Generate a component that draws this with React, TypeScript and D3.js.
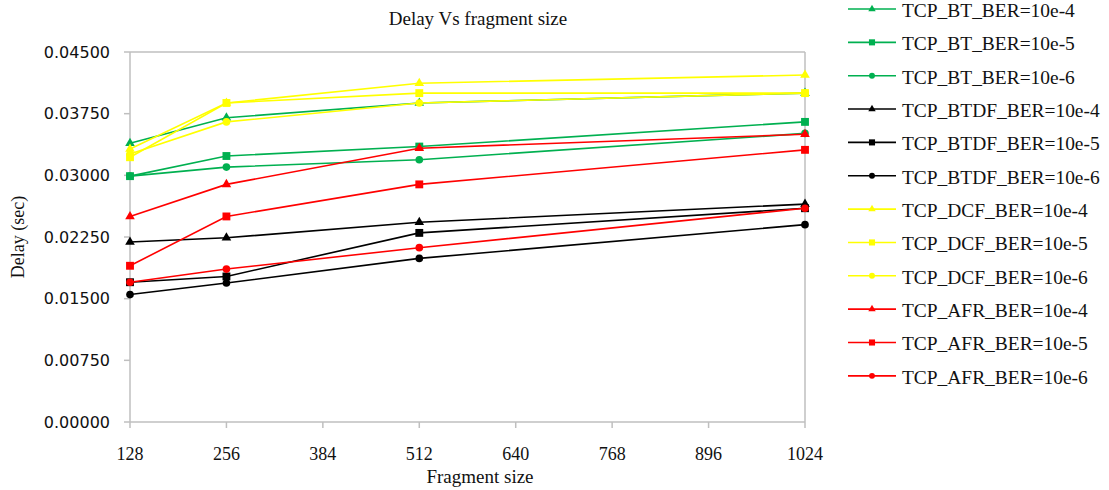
import React from "react";
import * as d3 from "d3";

const fragmentSizes = [128, 256, 512, 1024];
const xTicks = [128, 256, 384, 512, 640, 768, 896, 1024];
const yTicks = [0, 0.0075, 0.015, 0.0225, 0.03, 0.0375, 0.045];

const bt4 = [0.0339, 0.037, 0.0388, 0.04];
const bt5 = [0.0299, 0.03235, 0.0335, 0.0365];
const bt6 = [0.0299, 0.031, 0.0319, 0.0351];
const btdf4 = [0.0219, 0.0224, 0.0243, 0.0265];
const btdf5 = [0.017, 0.0177, 0.023, 0.026];
const btdf6 = [0.0155, 0.0169, 0.0199, 0.024];
const dcf4 = [0.0332, 0.0388, 0.0412, 0.0422];
const dcf5 = [0.0322, 0.0388, 0.04, 0.04];
const dcf6 = [0.0326, 0.0365, 0.0388, 0.04];
const afr4 = [0.025, 0.0289, 0.0333, 0.035];
const afr5 = [0.019, 0.025, 0.0289, 0.0331];
const afr6 = [0.017, 0.0186, 0.0212, 0.026];

const seriesNames = [
  "TCP_BT_BER=10e-4", "TCP_BT_BER=10e-5", "TCP_BT_BER=10e-6",
  "TCP_BTDF_BER=10e-4", "TCP_BTDF_BER=10e-5", "TCP_BTDF_BER=10e-6",
  "TCP_DCF_BER=10e-4", "TCP_DCF_BER=10e-5", "TCP_DCF_BER=10e-6",
  "TCP_AFR_BER=10e-4", "TCP_AFR_BER=10e-5", "TCP_AFR_BER=10e-6",
];
const seriesValues = [bt4, bt5, bt6, btdf4, btdf5, btdf6, dcf4, dcf5, dcf6, afr4, afr5, afr6];
const groupColors = ["#00B050", "#000000", "#FFFF00", "#FF0000"];
const markerKinds = ["triangle", "square", "circle"];

const W = 1109;
const H = 490;
const plot = { left: 130, right: 805, top: 52, bottom: 422 };

function symbolPath(kind: string, scale: number) {
  if (kind === "triangle") return d3.symbol(d3.symbolTriangle, 40 * scale)()!;
  if (kind === "square") return d3.symbol(d3.symbolSquare, 62 * scale)()!;
  return d3.symbol(d3.symbolCircle, 46 * scale)()!;
}

export default function App() {
  const x = d3.scaleLinear().domain([128, 1024]).range([plot.left, plot.right]);
  const y = d3.scaleLinear().domain([0, 0.045]).range([plot.bottom, plot.top]);
  const line = d3
    .line<number>()
    .x((_, i) => x(fragmentSizes[i]))
    .y((d) => y(d));

  const serif = "'Liberation Serif', 'Times New Roman', serif";
  const sans = "'DejaVu Sans', Tahoma, sans-serif";
  const axisColor = "#BFBFBF";

  return (
    <svg width={W} height={H} style={{ position: "absolute", left: 0, top: 0 }}>
      <rect x={0} y={0} width={W} height={H} fill="#fff" />
      {/* plot border */}
      <line x1={plot.left} x2={plot.right} y1={plot.top} y2={plot.top} stroke={axisColor} strokeWidth={1.5} />
      <line x1={plot.right} x2={plot.right} y1={plot.top} y2={plot.bottom} stroke={axisColor} strokeWidth={1.5} />
      <line x1={plot.left} x2={plot.left} y1={plot.top} y2={plot.bottom} stroke={axisColor} strokeWidth={1.5} />
      <line x1={plot.left} x2={plot.right} y1={plot.bottom} y2={plot.bottom} stroke={axisColor} strokeWidth={1.5} />

      {/* y ticks */}
      {yTicks.map((t) => (
        <g key={"y" + t}>
          <line x1={plot.left - 6} x2={plot.left} y1={y(t)} y2={y(t)} stroke={axisColor} strokeWidth={1.5} />
          <text x={110} y={y(t)} dy="0.36em" textAnchor="end" fontFamily={sans} fontSize={16} fill="#111">
            {d3.format(".5f")(t)}
          </text>
        </g>
      ))}
      {/* x ticks */}
      {xTicks.map((t) => (
        <g key={"x" + t}>
          <line x1={x(t)} x2={x(t)} y1={plot.bottom} y2={plot.bottom + 6} stroke={axisColor} strokeWidth={1.5} />
          <text x={x(t)} y={460} textAnchor="middle" fontFamily={serif} fontSize={18} fill="#111">
            {t}
          </text>
        </g>
      ))}

      {/* series */}
      {seriesValues.map((vals, si) => {
        const color = groupColors[Math.floor(si / 3)];
        const kind = markerKinds[si % 3];
        const p = symbolPath(kind, 1);
        return (
          <g key={"s" + si}>
            <path d={line(vals)!} fill="none" stroke={color} strokeWidth={1.6} />
            {vals.map((v, i) => (
              <path key={i} d={p} transform={`translate(${x(fragmentSizes[i])},${y(v)})`} fill={color} />
            ))}
          </g>
        );
      })}

      {/* titles */}
      <text x={478} y={25} textAnchor="middle" fontFamily={serif} fontSize={19} fill="#111">
        Delay Vs fragment size
      </text>
      <text x={480} y={483} textAnchor="middle" fontFamily={serif} fontSize={19} fill="#111">
        Fragment size
      </text>
      <text
        transform={`translate(24,237) rotate(-90)`}
        textAnchor="middle"
        fontFamily={serif}
        fontSize={18}
        fill="#111"
      >
        Delay (sec)
      </text>

      {/* legend */}
      {seriesNames.map((name, si) => {
        const color = groupColors[Math.floor(si / 3)];
        const kind = markerKinds[si % 3];
        const cy = 9 + si * 33.35;
        return (
          <g key={"l" + si}>
            <line x1={848} x2={896} y1={cy} y2={cy} stroke={color} strokeWidth={1.6} />
            <path d={symbolPath(kind, 0.6)} transform={`translate(872,${cy})`} fill={color} />
            <text
              transform={`translate(902,${cy + 7.8}) scale(1.08,1)`}
              fontFamily={serif}
              fontSize={18}
              fill="#111"
            >
              {name}
            </text>
          </g>
        );
      })}
    </svg>
  );
}
